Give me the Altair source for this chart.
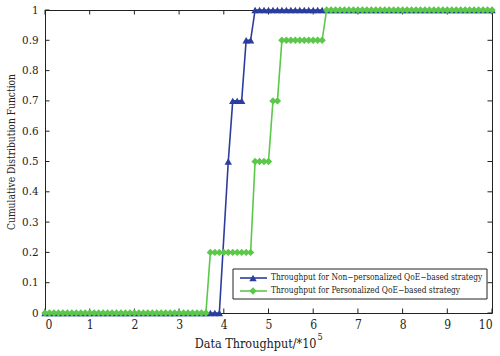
import altair as alt
import pandas as pd

# Throughput grid (units of 1e5) and the two empirical CDFs
throughput = [round(0.1 * i, 1) for i in range(101)]
cdf_non_personalized = [0.0] * 40 + [None] + [0.5] + [0.7] * 3 + [0.9] * 2 + [1.0] * 54
cdf_personalized = [0.0] * 37 + [0.2] * 10 + [0.5] * 4 + [0.7] * 2 + [0.9] * 10 + [1.0] * 38

series_names = [
    "Throughput for Non\u2212personalized QoE\u2212based strategy",
    "Throughput for Personalized QoE\u2212based strategy",
]
series_colors = ["#2B3E9E", "#5CC84A"]
series_shapes = ["triangle-up", "diamond"]

x_ticks = list(range(0, 11))
y_ticks = [0, 0.1, 0.2, 0.3, 0.4, 0.5, 0.6, 0.7, 0.8, 0.9, 1]

W, H = 447, 303
FONT = "DejaVu Serif Condensed"
TICK = 4.5
MSIZE = 55

xscale = alt.Scale(domain=[0, 10], nice=False, zero=False)
yscale = alt.Scale(domain=[0, 1], nice=False, zero=False)

x_axis = alt.Axis(values=x_ticks, ticks=False, domain=False, grid=False,
                  labelPadding=6, labelFont=FONT, labelFontSize=12,
                  labelColor="#222", title=None)
y_axis = alt.Axis(values=y_ticks, ticks=False, domain=False, grid=False,
                  labelPadding=7, labelFont=FONT, labelFontSize=11.5,
                  labelColor="#222", format="~g", title=None)


def X(field):
    return alt.X(f"{field}:Q", scale=xscale, axis=x_axis)


def Y(field):
    return alt.Y(f"{field}:Q", scale=yscale, axis=y_axis)


layers = []

# inward tick marks on all four sides
xt = pd.DataFrame({"x": x_ticks})
yt = pd.DataFrame({"y": y_ticks})
for y0, y1 in [(H, H - TICK), (0, TICK)]:
    layers.append(alt.Chart(xt).mark_rule(color="#222", strokeWidth=1).encode(
        x=X("x"), y=alt.value(y0), y2=alt.value(y1)))
for x0, x1 in [(0, TICK), (W, W - TICK)]:
    layers.append(alt.Chart(yt).mark_rule(color="#222", strokeWidth=1).encode(
        y=Y("y"), x=alt.value(x0), x2=alt.value(x1)))

# data series: line with markers at every sample
for name, values, color, shape in zip(series_names,
                                      [cdf_non_personalized, cdf_personalized],
                                      series_colors, series_shapes):
    df = pd.DataFrame({"x": throughput, "y": values}).dropna()
    layers.append(alt.Chart(df).mark_line(color=color, strokeWidth=1.6).encode(
        x=X("x"), y=Y("y")))
    layers.append(alt.Chart(df).mark_point(shape=shape, filled=True, color=color,
                                           size=MSIZE, opacity=1).encode(
        x=X("x"), y=Y("y")))

one = pd.DataFrame({"a": [0]})

# legend box
layers.append(alt.Chart(one).mark_rect(fill="white", stroke="#222", strokeWidth=1).encode(
    x=alt.value(188), x2=alt.value(442), y=alt.value(259), y2=alt.value(289)))
for i, (name, color, shape) in enumerate(zip(series_names, series_colors, series_shapes)):
    ly = 268 + 13 * i
    layers.append(alt.Chart(one).mark_rule(color=color, strokeWidth=1.6).encode(
        x=alt.value(195), x2=alt.value(222), y=alt.value(ly)))
    layers.append(alt.Chart(one).mark_point(shape=shape, filled=True, color=color,
                                            size=MSIZE, opacity=1).encode(
        x=alt.value(208), y=alt.value(ly)))
    layers.append(alt.Chart(one).mark_text(text=name, font=FONT, fontSize=8.3,
                                           align="left", baseline="middle",
                                           color="#222").encode(
        x=alt.value(226), y=alt.value(ly)))

# axis titles
layers.append(alt.Chart(one).mark_text(text="Data Throughput/*10", font=FONT,
                                       fontSize=12.5, align="right",
                                       baseline="alphabetic", color="#222").encode(
    x=alt.value(271.5), y=alt.value(338)))
layers.append(alt.Chart(one).mark_text(text="5", font=FONT, fontSize=9,
                                       align="left", baseline="alphabetic",
                                       color="#222").encode(
    x=alt.value(272.5), y=alt.value(330)))
layers.append(alt.Chart(one).mark_text(text="Cumulative Distribution Function",
                                       font=FONT, fontSize=10.2, angle=270,
                                       align="center", baseline="alphabetic",
                                       color="#222").encode(
    x=alt.value(-30), y=alt.value(142)))

chart = alt.layer(*layers).properties(
    width=W, height=H,
    autosize=alt.AutoSizeParams(type="none"),
    padding={"left": 45, "top": 10, "right": 8, "bottom": 43},
    background="white",
).configure_view(stroke="#222", strokeWidth=1)

chart.save("out.html", embed_options={"renderer": "svg", "actions": False})
